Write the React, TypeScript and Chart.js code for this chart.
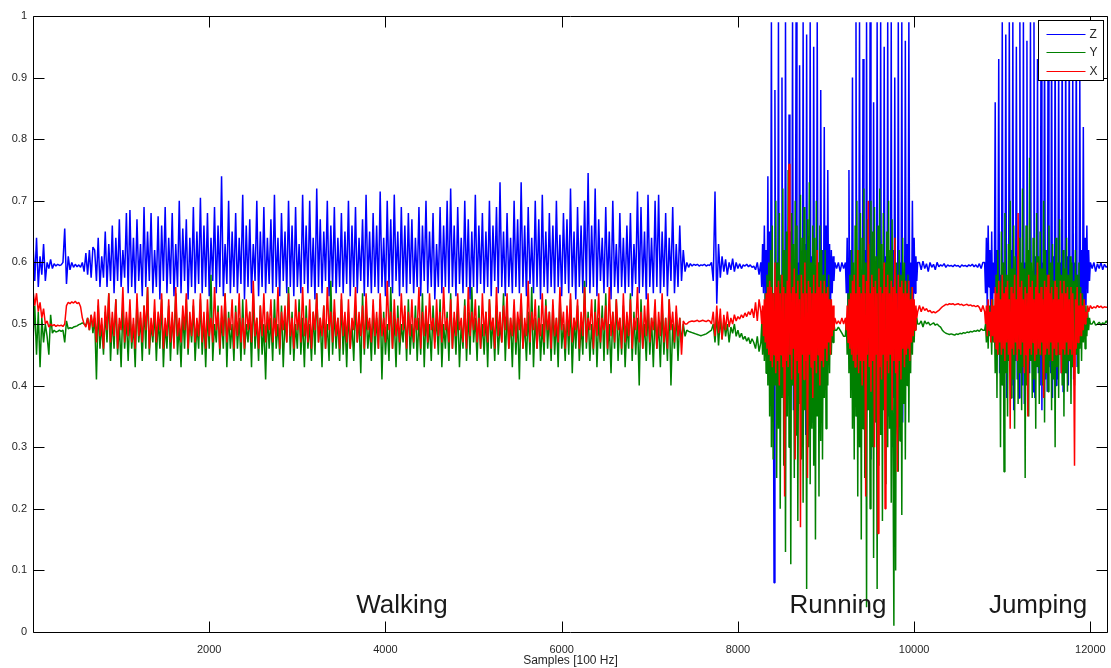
import React, { useEffect, useRef } from "react";
import { Chart, registerables } from "chart.js";

Chart.register(...registerables);

// ---------- axes ----------
const sampleMin = 0;
const sampleMax = 12200;
const xTickValues = [2000, 4000, 6000, 8000, 10000, 12000];
const yTickValues = [0, 0.1, 0.2, 0.3, 0.4, 0.5, 0.6, 0.7, 0.8, 0.9, 1];
const xAxisTitle = "Samples [100 Hz]";

// ---------- series ----------
const seriesNames = ["Z", "Y", "X"];
const seriesColors = ["#0000ff", "#008000", "#ff0000"];

// ---------- activity labels ----------
const activityNames = ["Walking", "Running", "Jumping"];
const activityCenters = [4188, 9136, 11406];
const activityLevel = 0.031;

// ---------- segment: start (samples 0..680) ----------
const preStart = 0;
const preStep = 20;
const zPre = [0.63,0.57,0.64,0.56,0.61,0.58,0.63,0.57,0.60,0.59, 0.605,0.59,0.598,0.594,0.597,0.595,0.596,0.60,0.655,0.565, 0.61,0.588,0.60,0.592,0.597,0.593,0.596,0.592,0.60,0.585, 0.615,0.58,0.62,0.575,0.625];
const yPre = [0.47,0.53,0.45,0.52,0.43,0.51,0.47,0.50,0.48,0.45, 0.515,0.485,0.49,0.487,0.488,0.49,0.488,0.49,0.47,0.505, 0.492,0.494,0.493,0.495,0.496,0.497,0.499,0.50,0.502,0.50, 0.498,0.51,0.49,0.515,0.485];
const xPre = [0.555,0.53,0.55,0.52,0.535,0.51,0.525,0.50,0.505,0.495, 0.50,0.497,0.499,0.496,0.498,0.497,0.498,0.496,0.50,0.53, 0.535,0.533,0.536,0.534,0.537,0.533,0.535,0.528,0.51,0.50, 0.495,0.51,0.49,0.515,0.495];

// ---------- segment: walking (samples 700..7400) ----------
const walkStart = 700;
const walkStep = 20;
const zWalk = [
  0.62,0.57,0.64,0.56,0.61,0.575,0.65,0.56,0.63,0.57,0.66,0.55,0.64,0.57,0.67,0.56,0.62,0.575,0.68,0.55,
  0.685,0.56,0.64,0.55,0.67,0.57,0.63,0.545,0.69,0.56,0.65,0.57,0.68,0.55,0.62,0.56,0.675,0.54,0.66,0.57,
  0.69,0.55,0.64,0.565,0.68,0.545,0.63,0.56,0.70,0.55,0.655,0.57,0.67,0.54,0.64,0.56,0.69,0.55,0.65,0.565,
  0.705,0.55,0.66,0.56,0.68,0.545,0.64,0.57,0.69,0.55,0.66,0.56,0.74,0.545,0.63,0.565,0.70,0.55,0.65,0.56,
  0.68,0.55,0.64,0.565,0.71,0.54,0.66,0.56,0.67,0.55,0.63,0.57,0.70,0.545,0.65,0.56,0.69,0.55,0.64,0.565,
  0.67,0.55,0.71,0.56,0.64,0.545,0.68,0.57,0.65,0.55,0.70,0.56,0.66,0.545,0.69,0.56,0.63,0.55,0.71,0.565,
  0.66,0.55,0.70,0.56,0.64,0.54,0.72,0.56,0.67,0.55,0.65,0.57,0.70,0.545,0.66,0.56,0.69,0.55,0.64,0.56,
  0.68,0.55,0.65,0.565,0.70,0.545,0.66,0.56,0.69,0.55,0.64,0.57,0.67,0.545,0.71,0.56,0.65,0.55,0.68,0.56,
  0.66,0.55,0.715,0.56,0.64,0.545,0.70,0.56,0.67,0.55,0.71,0.57,0.65,0.545,0.69,0.56,0.66,0.55,0.68,0.565,
  0.67,0.55,0.64,0.56,0.69,0.545,0.66,0.57,0.70,0.55,0.65,0.56,0.68,0.54,0.63,0.56,0.69,0.55,0.66,0.56,
  0.70,0.55,0.72,0.56,0.66,0.545,0.69,0.565,0.64,0.55,0.70,0.56,0.67,0.54,0.65,0.56,0.71,0.55,0.66,0.565,
  0.68,0.55,0.65,0.56,0.70,0.545,0.66,0.57,0.69,0.55,0.73,0.56,0.65,0.545,0.68,0.56,0.64,0.55,0.70,0.56,
  0.67,0.55,0.73,0.56,0.66,0.545,0.69,0.565,0.64,0.55,0.70,0.56,0.67,0.54,0.71,0.56,0.65,0.55,0.68,0.56,
  0.66,0.55,0.70,0.56,0.645,0.545,0.68,0.565,0.67,0.55,0.72,0.56,0.65,0.54,0.69,0.56,0.66,0.55,0.70,0.56,
  0.745,0.55,0.66,0.56,0.72,0.545,0.67,0.57,0.64,0.55,0.69,0.56,0.65,0.54,0.70,0.56,0.63,0.55,0.68,0.56,
  0.64,0.55,0.66,0.56,0.68,0.545,0.63,0.565,0.715,0.55,0.69,0.56,0.65,0.54,0.71,0.56,0.64,0.55,0.70,0.56,
  0.71,0.55,0.65,0.56,0.68,0.545,0.64,0.57,0.69,0.55,0.63,0.56,0.66,0.57,0.62,0.585
];
const yWalk = [
  0.51,0.41,0.53,0.46,0.50,0.45,0.52,0.47,0.55,0.44,0.51,0.46,0.54,0.45,0.50,0.43,0.53,0.46,0.51,0.44,
  0.52,0.46,0.50,0.43,0.54,0.47,0.51,0.44,0.53,0.46,0.56,0.45,0.50,0.47,0.52,0.44,0.51,0.46,0.54,0.43,
  0.50,0.46,0.53,0.44,0.51,0.47,0.55,0.45,0.50,0.43,0.52,0.46,0.54,0.45,0.51,0.47,0.53,0.44,0.50,0.46,
  0.54,0.45,0.51,0.43,0.52,0.46,0.58,0.44,0.50,0.47,0.53,0.45,0.51,0.46,0.55,0.43,0.52,0.46,0.50,0.44,
  0.53,0.46,0.51,0.44,0.54,0.45,0.50,0.47,0.52,0.43,0.55,0.46,0.51,0.44,0.53,0.45,0.50,0.41,0.52,0.46,
  0.51,0.44,0.54,0.46,0.50,0.45,0.53,0.43,0.51,0.47,0.56,0.45,0.52,0.44,0.50,0.46,0.54,0.45,0.51,0.43,
  0.53,0.46,0.50,0.44,0.52,0.45,0.55,0.47,0.51,0.43,0.53,0.46,0.50,0.44,0.57,0.45,0.52,0.46,0.51,0.44,
  0.54,0.45,0.51,0.43,0.52,0.46,0.50,0.44,0.53,0.47,0.51,0.42,0.55,0.45,0.52,0.46,0.50,0.44,0.53,0.45,
  0.51,0.46,0.54,0.41,0.52,0.45,0.50,0.44,0.56,0.46,0.51,0.43,0.53,0.45,0.50,0.47,0.52,0.44,0.54,0.45,
  0.50,0.46,0.53,0.44,0.51,0.45,0.55,0.43,0.52,0.46,0.50,0.44,0.53,0.47,0.51,0.45,0.54,0.43,0.50,0.46,
  0.52,0.44,0.55,0.46,0.51,0.45,0.53,0.43,0.50,0.46,0.54,0.44,0.52,0.45,0.56,0.47,0.51,0.44,0.53,0.46,
  0.50,0.45,0.52,0.43,0.54,0.46,0.51,0.44,0.53,0.45,0.50,0.47,0.55,0.44,0.52,0.46,0.51,0.43,0.53,0.45,
  0.51,0.41,0.54,0.46,0.50,0.44,0.52,0.45,0.56,0.43,0.51,0.46,0.53,0.44,0.50,0.45,0.54,0.46,0.52,0.44,
  0.53,0.45,0.51,0.43,0.55,0.46,0.50,0.44,0.52,0.45,0.54,0.42,0.51,0.46,0.53,0.44,0.50,0.45,0.57,0.46,
  0.52,0.44,0.50,0.45,0.54,0.43,0.51,0.46,0.53,0.44,0.55,0.45,0.50,0.42,0.52,0.46,0.54,0.44,0.51,0.45,
  0.53,0.43,0.50,0.46,0.55,0.44,0.52,0.45,0.51,0.40,0.54,0.46,0.50,0.44,0.53,0.45,0.51,0.43,0.52,0.46,
  0.50,0.43,0.53,0.45,0.51,0.44,0.54,0.40,0.50,0.46,0.52,0.44,0.51,0.47,0.50,0.48
];
const xWalk = [
  0.52,0.47,0.54,0.48,0.51,0.46,0.53,0.49,0.55,0.47,0.52,0.48,0.54,0.46,0.51,0.49,0.56,0.47,0.52,0.48,
  0.54,0.47,0.51,0.46,0.55,0.48,0.52,0.47,0.53,0.49,0.56,0.46,0.51,0.48,0.54,0.47,0.52,0.49,0.55,0.46,
  0.51,0.48,0.54,0.47,0.52,0.46,0.56,0.48,0.51,0.47,0.53,0.49,0.55,0.46,0.52,0.48,0.54,0.47,0.51,0.48,
  0.55,0.47,0.52,0.46,0.54,0.48,0.51,0.47,0.56,0.49,0.52,0.46,0.53,0.48,0.55,0.47,0.51,0.49,0.54,0.46,
  0.52,0.48,0.55,0.47,0.51,0.46,0.54,0.49,0.52,0.47,0.57,0.48,0.51,0.46,0.53,0.48,0.55,0.47,0.52,0.49,
  0.54,0.47,0.51,0.48,0.56,0.46,0.52,0.49,0.53,0.47,0.55,0.48,0.51,0.46,0.54,0.49,0.52,0.47,0.56,0.48,
  0.51,0.47,0.54,0.46,0.52,0.49,0.55,0.47,0.51,0.48,0.53,0.46,0.56,0.49,0.52,0.47,0.54,0.48,0.51,0.46,
  0.55,0.48,0.52,0.47,0.54,0.46,0.51,0.49,0.56,0.47,0.52,0.48,0.53,0.46,0.55,0.49,0.51,0.47,0.54,0.48,
  0.52,0.46,0.55,0.48,0.51,0.47,0.57,0.49,0.52,0.46,0.54,0.48,0.51,0.47,0.55,0.49,0.53,0.46,0.52,0.48,
  0.54,0.47,0.51,0.49,0.56,0.46,0.52,0.48,0.53,0.47,0.55,0.49,0.51,0.46,0.54,0.48,0.52,0.47,0.56,0.49,
  0.51,0.47,0.54,0.46,0.52,0.48,0.55,0.49,0.51,0.47,0.53,0.46,0.56,0.48,0.52,0.49,0.54,0.47,0.51,0.46,
  0.55,0.48,0.52,0.47,0.54,0.49,0.51,0.46,0.56,0.48,0.52,0.47,0.53,0.49,0.55,0.46,0.51,0.48,0.54,0.47,
  0.52,0.49,0.55,0.46,0.51,0.48,0.57,0.47,0.52,0.49,0.54,0.46,0.51,0.48,0.55,0.47,0.53,0.49,0.52,0.46,
  0.54,0.48,0.51,0.47,0.56,0.49,0.52,0.46,0.53,0.48,0.55,0.47,0.51,0.49,0.54,0.46,0.52,0.48,0.56,0.47,
  0.51,0.49,0.54,0.46,0.52,0.48,0.55,0.47,0.51,0.49,0.53,0.46,0.56,0.48,0.52,0.47,0.54,0.49,0.51,0.46,
  0.55,0.47,0.52,0.48,0.54,0.46,0.51,0.49,0.56,0.47,0.52,0.46,0.53,0.48,0.55,0.47,0.51,0.49,0.54,0.46,
  0.52,0.48,0.55,0.47,0.51,0.46,0.54,0.49,0.52,0.47,0.53,0.48,0.51,0.45,0.505,0.50
];

// ---------- segment: between walking and running (7420..8240) ----------
const midStart = 7420;
const midStep = 20;
const zMid = [0.60,0.592,0.598,0.594,0.597,0.595,0.597,0.594,0.596,0.595, 0.597,0.594,0.596,0.595,0.60,0.57,0.715,0.533,0.63,0.575, 0.61,0.585,0.605,0.58,0.60,0.588,0.606,0.585,0.60,0.59, 0.598,0.59,0.596,0.594,0.597,0.593,0.596,0.592,0.594,0.588, 0.60,0.58];
const yMid = [0.49,0.488,0.487,0.486,0.485,0.484,0.483,0.482,0.481,0.482, 0.483,0.484,0.486,0.488,0.49,0.50,0.47,0.515,0.465,0.51, 0.475,0.505,0.48,0.50,0.47,0.495,0.485,0.50,0.48,0.49, 0.478,0.485,0.475,0.48,0.472,0.478,0.468,0.476,0.47,0.46, 0.48,0.455];
const xMid = [0.50,0.503,0.504,0.505,0.504,0.505,0.506,0.504,0.505,0.506, 0.505,0.504,0.506,0.505,0.50,0.52,0.48,0.53,0.485,0.525, 0.475,0.515,0.49,0.52,0.495,0.51,0.50,0.515,0.505,0.512, 0.508,0.515,0.51,0.518,0.512,0.52,0.515,0.525,0.51,0.535, 0.505,0.54];

// ---------- segment: running, first bout (8260..9100) ----------
const run1Start = 8260;
const run1Step = 10;
const zRun1 = [
  0.60,0.56,0.63,0.55, 0.66,0.54,0.62,0.50, 0.74,0.45,0.65,0.48, 0.99,0.40,0.55,0.08,
  0.88,0.42,0.60,0.38, 0.99,0.35,0.55,0.45, 0.90,0.40,0.62,0.33, 0.99,0.38,0.58,0.42,
  0.84,0.30,0.65,0.40, 0.99,0.36,0.55,0.44, 0.99,0.33,0.60,0.41, 0.92,0.38,0.57,0.35,
  0.99,0.40,0.63,0.32, 0.97,0.37,0.56,0.43, 0.99,0.34,0.61,0.40, 0.95,0.39,0.58,0.36,
  0.99,0.42,0.60,0.38, 0.88,0.40,0.62,0.45, 0.82,0.45,0.66,0.48, 0.75,0.50,0.63,0.52,
  0.62,0.55,0.61,0.57,0.60
];
const yRun1 = [
  0.47,0.50,0.45,0.52,0.44,0.55,0.42,0.58,0.40,0.60,
  0.35,0.62,0.30,0.66,0.28,0.55,0.40,0.70,0.25,0.60,
  0.33,0.68,0.20,0.58,0.38,0.72,0.27,0.62,0.13,0.65,
  0.35,0.75,0.30,0.60,0.11,0.68,0.40,0.63,0.25,0.70,
  0.32,0.66,0.18,0.58,0.37,0.71,0.28,0.64,0.21,0.69,
  0.36,0.62,0.07,0.67,0.30,0.73,0.24,0.60,0.33,0.66,
  0.27,0.64,0.15,0.70,0.35,0.60,0.22,0.66,0.31,0.62,
  0.28,0.58,0.38,0.62,0.33,0.56,0.40,0.58,0.42,0.54,
  0.45,0.52,0.47,0.50,0.49
];
const xRun1 = [
  0.52,0.50,0.53,0.48,0.54,0.47,0.55,0.46,0.56,0.45,
  0.57,0.44,0.56,0.43,0.55,0.45,0.60,0.42,0.56,0.44,
  0.57,0.40,0.55,0.45,0.58,0.43,0.56,0.22,0.55,0.44,
  0.57,0.43,0.76,0.45,0.55,0.41,0.56,0.46,0.59,0.28,
  0.55,0.44,0.57,0.42,0.54,0.17,0.58,0.45,0.55,0.41,
  0.60,0.44,0.55,0.25,0.57,0.45,0.56,0.43,0.55,0.38,
  0.58,0.44,0.55,0.42,0.62,0.45,0.56,0.40,0.57,0.44,
  0.55,0.43,0.57,0.46,0.55,0.44,0.56,0.47,0.54,0.45,
  0.54,0.48,0.53,0.49,0.51
];

// ---------- segment: pause between running bouts (9120..9200) ----------
const gapStart = 9120;
const gapStep = 20;
const zGap = [0.59,0.60,0.585,0.60,0.59];
const yGap = [0.49,0.495,0.49,0.485,0.48];
const xGap = [0.50,0.505,0.50,0.51,0.50];

// ---------- segment: running, second bout (9220..10040) ----------
const run2Start = 9220;
const run2Step = 10;
const zRun2 = [
  0.60,0.55,0.64,0.52, 0.75,0.47,0.62,0.45, 0.90,0.40,0.58,0.37, 0.99,0.35,0.60,0.42,
  0.99,0.30,0.55,0.40, 0.93,0.38,0.62,0.33, 0.99,0.36,0.57,0.41, 0.99,0.28,0.60,0.38,
  0.86,0.40,0.56,0.34, 0.99,0.37,0.63,0.42, 0.99,0.32,0.58,0.39, 0.95,0.40,0.61,0.36,
  0.99,0.35,0.57,0.43, 0.99,0.30,0.62,0.38, 0.90,0.41,0.59,0.35, 0.99,0.37,0.60,0.42,
  0.99,0.34,0.56,0.40, 0.96,0.41,0.63,0.44, 0.99,0.45,0.60,0.50, 0.70,0.52,0.64,0.55,
  0.61,0.57,0.60
];
const yRun2 = [
  0.48,0.51,0.45,0.55,0.42,0.58,0.38,0.62,0.33,0.60,
  0.28,0.66,0.35,0.70,0.22,0.62,0.30,0.68,0.15,0.64,
  0.33,0.72,0.25,0.60,0.04,0.67,0.36,0.63,0.20,0.70,
  0.30,0.65,0.12,0.69,0.34,0.61,0.07,0.66,0.27,0.72,
  0.32,0.63,0.18,0.68,0.36,0.60,0.24,0.65,0.30,0.70,
  0.33,0.62,0.21,0.67,0.29,0.01,0.64,0.10,0.60,0.35,
  0.26,0.62,0.31,0.58,0.19,0.64,0.37,0.60,0.28,0.57,
  0.40,0.58,0.34,0.55,0.42,0.56,0.45,0.53,0.47,0.52,
  0.49,0.51,0.50
];
const xRun2 = [
  0.51,0.49,0.53,0.47,0.54,0.46,0.55,0.45,0.57,0.44,
  0.58,0.43,0.55,0.45,0.62,0.42,0.56,0.44,0.55,0.40,
  0.58,0.44,0.55,0.22,0.57,0.45,0.70,0.43,0.55,0.39,
  0.58,0.44,0.56,0.30,0.57,0.45,0.55,0.16,0.59,0.43,
  0.56,0.41,0.55,0.45,0.60,0.20,0.56,0.44,0.58,0.42,
  0.55,0.45,0.57,0.36,0.56,0.44,0.64,0.42,0.55,0.26,
  0.58,0.44,0.56,0.41,0.57,0.46,0.55,0.43,0.57,0.45,
  0.55,0.46,0.57,0.44,0.54,0.47,0.56,0.48,0.54,0.49,
  0.53,0.51,0.52
];

// ---------- segment: rest before jumping (10060..10780) ----------
const calmStart = 10060;
const calmStep = 20;
const zCalm = [0.60,0.588,0.602,0.59,0.598,0.585,0.60,0.592,0.597,0.588, 0.60,0.593,0.596,0.594,0.598,0.592,0.596,0.594,0.595,0.593, 0.596,0.594,0.595,0.592,0.596,0.594,0.595,0.593,0.596,0.594, 0.597,0.593,0.596,0.592,0.598,0.59,0.60];
const yCalm = [0.50,0.505,0.495,0.505,0.50,0.503,0.498,0.50,0.502,0.498, 0.50,0.497,0.495,0.49,0.487,0.485,0.484,0.483,0.484,0.483, 0.482,0.484,0.483,0.485,0.484,0.486,0.485,0.487,0.486,0.488, 0.487,0.489,0.488,0.49,0.488,0.492,0.49];
const xCalm = [0.53,0.52,0.528,0.522,0.525,0.52,0.522,0.518,0.52,0.518, 0.52,0.522,0.525,0.528,0.53,0.532,0.531,0.533,0.532,0.533, 0.531,0.532,0.533,0.531,0.532,0.53,0.531,0.532,0.53,0.531, 0.529,0.53,0.528,0.53,0.527,0.52,0.53];

// ---------- segment: jumping (10800..12000) ----------
const jumpStart = 10800;
const jumpStep = 10;
const zJump = [
  0.60,0.55,0.64,0.52,0.66,0.56,0.62,0.50, 0.65,0.53,0.60,0.55,
  0.86,0.45,0.62,0.50, 0.93,0.42,0.58,0.46, 0.99,0.40,0.60,0.44, 0.97,0.38,0.57,0.45,
  0.99,0.42,0.62,0.40, 0.99,0.36,0.58,0.44, 0.95,0.41,0.61,0.38, 0.99,0.43,0.57,0.40,
  0.99,0.37,0.60,0.45, 0.96,0.40,0.62,0.42, 0.99,0.44,0.58,0.39, 0.99,0.38,0.61,0.43,
  0.93,0.42,0.57,0.40, 0.99,0.36,0.60,0.44, 0.99,0.41,0.62,0.39, 0.97,0.43,0.58,0.42,
  0.99,0.38,0.61,0.44, 0.99,0.40,0.57,0.41, 0.94,0.45,0.60,0.42, 0.99,0.39,0.58,0.44,
  0.97,0.42,0.61,0.40, 0.99,0.44,0.59,0.43, 0.92,0.41,0.60,0.45, 0.99,0.43,0.58,0.46,
  0.90,0.47,0.62,0.50, 0.82,0.50,0.64,0.53,
  0.66,0.55,0.62,0.57,0.60
];
const yJump = [
  0.49,0.50,0.47,0.52,0.46,0.53,0.48,0.51,0.45,0.54,0.47,0.52,
  0.42,0.58,0.38,0.62,0.45,0.57,0.30,0.65,0.40,0.60,
  0.26,0.68,0.42,0.58,0.35,0.63,0.44,0.70,0.38,0.59,
  0.41,0.66,0.33,0.61,0.45,0.58,0.37,0.64,0.42,0.60,
  0.36,0.72,0.43,0.59,0.25,0.66,0.40,0.62,0.35,0.77,
  0.44,0.60,0.38,0.64,0.41,0.58,0.33,0.68,0.43,0.61,
  0.37,0.65,0.45,0.59,0.40,0.70,0.34,0.62,0.42,0.58,
  0.39,0.66,0.44,0.60,0.36,0.63,0.41,0.57,0.30,0.64,
  0.43,0.60,0.38,0.67,0.45,0.58,0.40,0.62,0.35,0.59,
  0.42,0.64,0.39,0.58,0.44,0.61,0.37,0.60,0.43,0.57,
  0.40,0.62,0.45,0.58,0.42,0.60,0.46,0.56,0.44,0.55,
  0.47,0.54,0.46,0.53,0.48,0.52,0.49,0.51,0.50
];
const xJump = [
  0.52,0.50,0.53,0.48,0.54,0.49,0.52,0.47,0.54,0.48,0.53,0.47,
  0.56,0.46,0.55,0.45,0.57,0.47,0.54,0.45,0.58,0.46,
  0.55,0.44,0.56,0.47,0.57,0.45,0.54,0.33,0.56,0.46,
  0.55,0.45,0.58,0.47,0.54,0.44,0.68,0.46,0.56,0.45,
  0.57,0.47,0.54,0.42,0.56,0.45,0.55,0.35,0.58,0.46,
  0.56,0.45,0.57,0.47,0.54,0.44,0.56,0.45,0.60,0.46,
  0.55,0.45,0.56,0.47,0.54,0.38,0.57,0.45,0.56,0.46,
  0.58,0.45,0.55,0.47,0.56,0.44,0.54,0.46,0.57,0.45,
  0.56,0.47,0.54,0.45,0.57,0.42,0.55,0.46,0.57,0.45,
  0.55,0.47,0.56,0.45,0.54,0.46,0.56,0.45,0.55,0.47,
  0.27,0.54,0.46,0.56,0.47,0.53,0.48,0.55,0.48,0.53,
  0.49,0.54,0.50,0.52,0.51,0.53,0.52,0.525,0.53
];

// ---------- segment: end (12020..12200) ----------
const postStart = 12020;
const postStep = 20;
const zPost = [0.59,0.60,0.585,0.598,0.59,0.60,0.588,0.597,0.592,0.595];
const yPost = [0.50,0.505,0.498,0.50,0.503,0.498,0.502,0.50,0.505,0.50];
const xPost = [0.525,0.528,0.526,0.53,0.527,0.529,0.526,0.528,0.527,0.528];

type Pt = { x: number; y: number };

function segment(start: number, step: number, values: number[]): Pt[] {
  return values.map((v, i) => ({ x: start + i * step, y: v }));
}

function buildSeries(parts: [number, number, number[]][]): Pt[] {
  const out: Pt[] = [];
  for (const [s, st, v] of parts) out.push(...segment(s, st, v));
  return out;
}

const FONT = "'Liberation Sans', Arial, Helvetica, sans-serif";
const TEXT = "#262626";

const decorPlugin = {
  id: "matlabDecor",
  afterDatasetsDraw(chart: any) {
    const { ctx, chartArea: a, scales } = chart;
    ctx.save();
    ctx.strokeStyle = "#000";
    ctx.lineWidth = 1;
    const L = Math.round(a.left) + 0.5;
    const R = Math.round(a.right) - 0.5;
    const T = Math.round(a.top) + 0.5;
    const B = Math.round(a.bottom) + 0.5;
    ctx.beginPath();
    ctx.moveTo(L, T); ctx.lineTo(R, T); ctx.lineTo(R, B); ctx.lineTo(L, B); ctx.closePath();
    ctx.stroke();
    const tl = 11;
    ctx.beginPath();
    for (const v of yTickValues) {
      const py = Math.round(scales.y.getPixelForValue(v)) + 0.5;
      ctx.moveTo(L, py); ctx.lineTo(L + tl, py);
      ctx.moveTo(R, py); ctx.lineTo(R - tl, py);
    }
    for (const v of xTickValues) {
      const px = Math.round(scales.x.getPixelForValue(v)) + 0.5;
      ctx.moveTo(px, B); ctx.lineTo(px, B - tl);
      ctx.moveTo(px, T); ctx.lineTo(px, T + tl);
    }
    ctx.stroke();

    // activity labels
    ctx.fillStyle = "#1a1a1a";
    ctx.font = `26px ${FONT}`;
    ctx.textAlign = "center";
    ctx.textBaseline = "alphabetic";
    activityNames.forEach((name, i) => {
      ctx.fillText(name, scales.x.getPixelForValue(activityCenters[i]), scales.y.getPixelForValue(activityLevel));
    });

    // axis title
    ctx.fillStyle = TEXT;
    ctx.font = `12px ${FONT}`;
    ctx.textBaseline = "middle";
    ctx.fillText(xAxisTitle, (a.left + a.right) / 2, 661);

    // legend (boxed, top-right inside the axes)
    const bw = 65, bh = 60;
    const bx = Math.round(a.right) - 5 - bw + 0.5;
    const by = Math.round(a.top) + 4 + 0.5;
    ctx.fillStyle = "#fff";
    ctx.fillRect(bx, by, bw, bh);
    ctx.strokeStyle = "#000";
    ctx.lineWidth = 1;
    ctx.strokeRect(bx, by, bw, bh);
    ctx.font = `12px ${FONT}`;
    ctx.textAlign = "left";
    ctx.textBaseline = "middle";
    seriesNames.forEach((name, i) => {
      const ly = Math.round(by + 13 + i * 18.5) + 0.5;
      ctx.strokeStyle = seriesColors[i];
      ctx.beginPath();
      ctx.moveTo(bx + 8, ly); ctx.lineTo(bx + 47, ly);
      ctx.stroke();
      ctx.fillStyle = TEXT;
      ctx.fillText(name, bx + 51, ly);
    });
    ctx.restore();
  },
};

export default function App() {
  const ref = useRef<HTMLCanvasElement>(null);

  useEffect(() => {
    const canvas = ref.current;
    if (!canvas) return;
    const zPts = buildSeries([
      [preStart, preStep, zPre], [walkStart, walkStep, zWalk], [midStart, midStep, zMid],
      [run1Start, run1Step, zRun1], [gapStart, gapStep, zGap], [run2Start, run2Step, zRun2],
      [calmStart, calmStep, zCalm], [jumpStart, jumpStep, zJump], [postStart, postStep, zPost],
    ]);
    const yPts = buildSeries([
      [preStart, preStep, yPre], [walkStart, walkStep, yWalk], [midStart, midStep, yMid],
      [run1Start, run1Step, yRun1], [gapStart, gapStep, yGap], [run2Start, run2Step, yRun2],
      [calmStart, calmStep, yCalm], [jumpStart, jumpStep, yJump], [postStart, postStep, yPost],
    ]);
    const xPts = buildSeries([
      [preStart, preStep, xPre], [walkStart, walkStep, xWalk], [midStart, midStep, xMid],
      [run1Start, run1Step, xRun1], [gapStart, gapStep, xGap], [run2Start, run2Step, xRun2],
      [calmStart, calmStep, xCalm], [jumpStart, jumpStep, xJump], [postStart, postStep, xPost],
    ]);
    const allPts = [zPts, yPts, xPts];

    const chart = new Chart(canvas, {
      type: "line",
      data: {
        datasets: seriesNames.map((name, i) => ({
          label: name,
          data: allPts[i],
          borderColor: seriesColors[i],
          backgroundColor: seriesColors[i],
          borderWidth: 1.5,
          pointRadius: 0,
          tension: 0,
          fill: false,
          borderJoinStyle: "bevel",
          order: 3 - i,
        })),
      },
      options: {
        animation: false,
        responsive: false,
        parsing: false,
        normalized: true,
        events: [],
        layout: { padding: { top: 16, right: 3, left: 0, bottom: 0 } },
        plugins: { legend: { display: false }, tooltip: { enabled: false }, title: { display: false } },
        scales: {
          x: {
            type: "linear",
            min: sampleMin,
            max: sampleMax,
            grid: { display: false, drawTicks: false },
            border: { display: false },
            afterBuildTicks: (s: any) => { s.ticks = xTickValues.map((v) => ({ value: v })); },
            afterFit: (s: any) => { s.height = 36; s.paddingLeft = 0; s.paddingRight = 0; },
            ticks: {
              padding: 11,
              color: TEXT,
              font: { family: FONT, size: 11 },
              maxRotation: 0,
              autoSkip: false,
              callback: (v: any) => String(v),
            },
          },
          y: {
            type: "linear",
            min: 0,
            max: 1,
            grid: { display: false, drawTicks: false },
            border: { display: false },
            afterBuildTicks: (s: any) => { s.ticks = yTickValues.map((v) => ({ value: v })); },
            afterFit: (s: any) => { s.width = 33; s.paddingTop = 0; s.paddingBottom = 0; },
            ticks: {
              padding: 6,
              color: TEXT,
              font: { family: FONT, size: 11 },
              autoSkip: false,
              callback: (v: any) => String(Math.round(Number(v) * 10) / 10),
            },
          },
        },
      },
      plugins: [decorPlugin],
    });
    return () => chart.destroy();
  }, []);

  return (
    <div style={{ position: "absolute", left: 0, top: 0, width: 1111, height: 668, background: "#fff" }}>
      <canvas ref={ref} width={1111} height={668} style={{ display: "block", width: 1111, height: 668 }} />
    </div>
  );
}
